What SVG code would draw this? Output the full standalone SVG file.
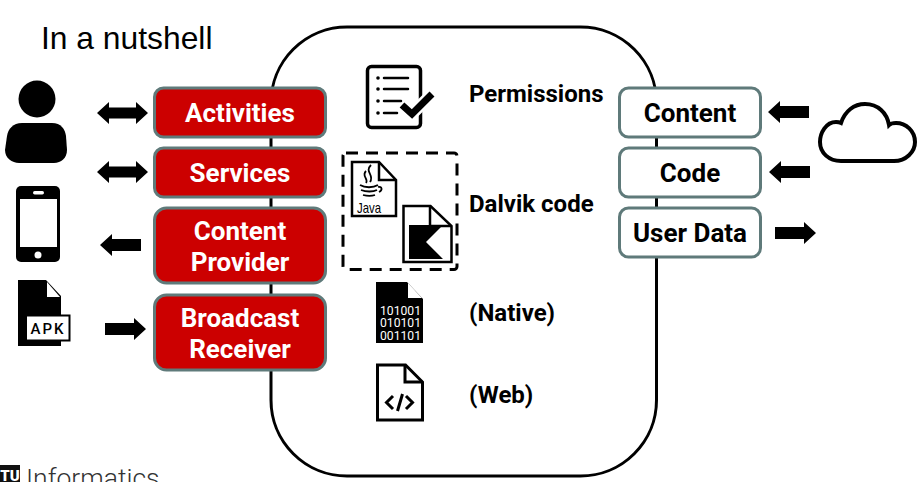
<svg xmlns="http://www.w3.org/2000/svg" width="921" height="482" viewBox="0 0 921 482">
<style>
text{font-family:Roboto,"Liberation Sans",sans-serif}
.lbl{font-size:26px;font-weight:700;text-anchor:middle}
.red rect{fill:#cc0000;stroke:#5f7a7a;stroke-width:3}
.red text{fill:#fff}
.wht rect{fill:#fff;stroke:#5f7a7a;stroke-width:3}
.wht text{fill:#000}
.cap{font-size:24px;font-weight:700;fill:#000}
.o{fill:#fff;stroke:#000;stroke-width:3.500;stroke-linejoin:round}
.k{fill:#000}
.ln{stroke:#000;stroke-width:2.500;fill:none;stroke-linecap:round}
</style>
<defs>
<path id="dbl" d="M0 0l12-11v5.500h27v-5.500l12 11-12 11v-5.500H12v5.500z"/>
<path id="lft" d="M0 0l12-11v5h29v12H12v5z"/>
<path id="rgt" d="M41 0L29-11v5H0v12h29v5z"/>
</defs>
<rect width="921" height="482" fill="#fff"/>
<rect id="app-container" x="271" y="27" width="385.500" height="449" rx="76" fill="#fff" stroke="#000" stroke-width="3"/>
<text id="title" x="41" y="49" style="font-family:'Liberation Sans',Arial,sans-serif;font-size:31.800px" fill="#000">In a nutshell</text>
<g id="connectors">
<use href="#dbl" x="97" y="113"/>
<use href="#dbl" x="97" y="172"/>
<use href="#lft" x="100" y="245"/>
<use href="#rgt" x="105" y="329"/>
<use href="#lft" x="768" y="112"/>
<use href="#lft" x="769" y="172"/>
<use href="#rgt" x="775" y="233"/>
</g>
<g id="user"><circle cx="37" cy="99" r="18.500" class="k"/><path class="k" d="M22 123h30c9 0 13 6 14 13l1 14c0 8-6 13-13 13H19c-7 0-14-5-14-13l2-14c1-7 6-13 15-13z"/></g>
<g id="phone"><rect x="16" y="186" width="44" height="76" rx="5" class="k"/><rect x="20" y="199" width="37" height="48" fill="#fff"/><rect x="33" y="191" width="11" height="3.500" rx="1.700" fill="#fff"/><circle cx="38" cy="255" r="3.500" fill="#fff"/></g>
<g id="apk"><path class="k" d="M18 280h28l15 16v50H18z"/><path d="M47 282l13 15H47z" fill="#fff"/><rect x="26" y="315.500" width="43.500" height="25" fill="#fff" stroke="#000" stroke-width="2"/><text x="48" y="334" text-anchor="middle" style="font-size:15px;font-weight:500;letter-spacing:2px">APK</text></g>
<g id="activities" class="red"><rect x="154.500" y="88" width="171" height="49" rx="9"/><text class="lbl" x="240" y="122">Activities</text></g>
<g id="services" class="red"><rect x="154.500" y="148" width="171" height="49" rx="9"/><text class="lbl" x="240" y="182">Services</text></g>
<g id="content-provider" class="red"><rect x="154.500" y="208" width="171" height="75" rx="12"/><text class="lbl" x="240" y="239.500">Content</text><text class="lbl" x="240" y="270.500">Provider</text></g>
<g id="broadcast-receiver" class="red"><rect x="154.500" y="295" width="171" height="75" rx="12"/><text class="lbl" x="240" y="327">Broadcast</text><text class="lbl" x="240" y="358">Receiver</text></g>
<g id="content" class="wht"><rect x="619.500" y="88" width="141" height="49" rx="9"/><text class="lbl" x="690" y="122">Content</text></g>
<g id="code" class="wht"><rect x="619.500" y="148" width="141" height="49" rx="9"/><text class="lbl" x="690" y="182">Code</text></g>
<g id="user-data" class="wht"><rect x="619.500" y="208" width="141" height="49" rx="9"/><text class="lbl" x="690" y="242">User Data</text></g>
<g id="cloud"><path d="M841 161h53c12 0 21-9 21-19 0-11-9-19-19-19-2 0-5 0-7 2-2-12-11-21-24-21-11 0-20 7-24 19-2-1-3-1-5-1-10 0-16 11-16 20 0 11 9 19 21 19z" fill="#fff" stroke="#000" stroke-width="4"/></g>
<g id="permissions"><rect x="367.500" y="66.500" width="53" height="61" rx="4" class="o"/>
<g class="ln"><path d="M384 78h24M384 89h24M384 101h17M384 113h13"/></g><g class="k"><circle cx="378" cy="78" r="1.800"/><circle cx="378" cy="89" r="1.800"/><circle cx="378" cy="101" r="1.800"/><circle cx="378" cy="113" r="1.800"/></g>
<path d="M402 105l10 9 20-20" fill="none" stroke="#fff" stroke-width="12"/><path d="M402 105l10 9 20-20" fill="none" stroke="#000" stroke-width="7"/>
<text class="cap" x="469" y="102">Permissions</text></g>
<g id="dalvik"><rect x="343" y="153" width="114" height="116.500" rx="3" fill="none" stroke="#000" stroke-width="3" stroke-dasharray="12 8"/>
<path d="M352 162h27l17 18v36h-44z" fill="#fff" stroke="#000" stroke-width="2.500"/><path d="M379 162v18h17" fill="none" stroke="#000" stroke-width="2.500"/>
<path d="M371 165c-7 7 4 10-1 17M366 171c-5 5 3 8 0 12" fill="none" stroke="#000" stroke-width="1.800"/><path d="M360 185c5 3 13 3 18 0M361 190c5 2 12 2 16 0M363 195c4 1 9 1 12 0M378 187c4-1 5 3 1 5" fill="none" stroke="#000" stroke-width="1.800"/>
<text x="357" y="213" style="font-size:15px;font-family:'Liberation Sans',sans-serif" textLength="24" lengthAdjust="spacingAndGlyphs">Java</text>
<path d="M403.500 206h27l21 20v36h-48z" fill="#fff" stroke="#000" stroke-width="2.500"/><path d="M430 206v20h21" fill="none" stroke="#000" stroke-width="2.500"/>
<path class="k" d="M409 225h34l-17 17 17 17h-34z"/>
<text class="cap" x="469" y="212">Dalvik code</text></g>
<g id="native"><path class="k" d="M376 282h31l16 17v44h-47z"/><path d="M408 283l14 15h-14z" fill="#fff"/>
<g style="font-size:13px;font-weight:400" fill="#fff"><text x="380" y="315" textLength="41" lengthAdjust="spacingAndGlyphs">101001</text><text x="380" y="327" textLength="41" lengthAdjust="spacingAndGlyphs">010101</text><text x="380" y="340" textLength="41" lengthAdjust="spacingAndGlyphs">001101</text></g>
<text class="cap" x="469" y="321">(Native)</text></g>
<g id="web"><path d="M377.500 365h28l17 17v38h-45z" fill="#fff" stroke="#000" stroke-width="3"/><path d="M405 365v17h17.500" fill="none" stroke="#000" stroke-width="3"/>
<path d="M393 396l-6.500 6.500 6.500 6.500M406 396l6.500 6.500-6.500 6.500M402.500 394l-5 17" fill="none" stroke="#000" stroke-width="3"/>
<text class="cap" x="469" y="403">(Web)</text></g>
<g id="footer"><rect x="0" y="465" width="20" height="17" fill="#111"/><text x="10" y="481" text-anchor="middle" fill="#fff" style="font-size:15px;font-weight:900">TU</text><text x="26" y="487" style="font-size:26.500px;font-weight:300" fill="#333">Informatics</text></g>
</svg>
